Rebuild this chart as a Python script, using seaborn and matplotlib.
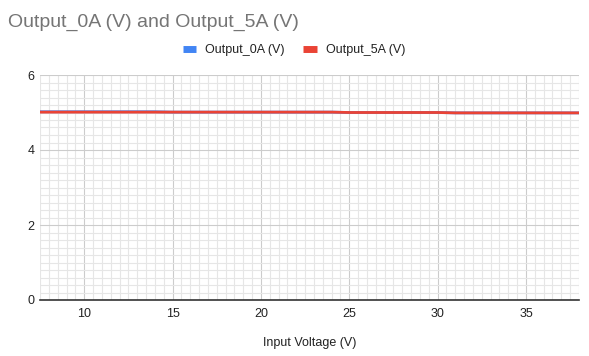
import numpy as np
import pandas as pd
import matplotlib
matplotlib.use("Agg")
import matplotlib.pyplot as plt
from matplotlib.ticker import MultipleLocator
from matplotlib.lines import Line2D
import seaborn as sns

input_voltage = [7.5, 8, 9, 10, 11, 12, 13, 14, 15, 16, 17, 18, 19, 20, 21, 22, 23,
                 24, 25, 26, 27, 28, 29, 30, 31, 32, 33, 34, 35, 36, 37, 38]
output_0a = [5.02, 5.02, 5.02, 5.02, 5.02, 5.02, 5.02, 5.02, 5.01, 5.01, 5.01, 5.01,
             5.01, 5.01, 5.01, 5.01, 5.01, 5.01, 5.00, 5.00, 5.00, 5.00, 5.00, 5.00,
             4.99, 4.99, 4.99, 4.99, 4.99, 4.99, 4.99, 4.99]
output_5a = [5.01, 5.01, 5.01, 5.01, 5.01, 5.01, 5.01, 5.01, 5.01, 5.01, 5.01, 5.01,
             5.01, 5.01, 5.01, 5.01, 5.01, 5.01, 5.00, 5.00, 5.00, 5.00, 5.00, 5.00,
             4.99, 4.99, 4.99, 4.99, 4.99, 4.99, 4.99, 4.99]
series_names = ["Output_0A (V)", "Output_5A (V)"]
colors = ["#4285F4", "#EA4335"]
title = "Output_0A (V) and Output_5A (V)"
x_label = "Input Voltage (V)"

df = pd.DataFrame({
    "Input Voltage (V)": input_voltage * 2,
    "value": output_0a + output_5a,
    "series": [series_names[0]] * len(input_voltage) + [series_names[1]] * len(input_voltage),
})

sns.set_theme(style="white")
plt.rcParams["font.family"] = ["Liberation Sans", "DejaVu Sans"]

fig = plt.figure(figsize=(5.89, 3.56), dpi=100)
ax = fig.add_axes([40 / 589, 56 / 356, 539 / 589, 225 / 356])

sns.lineplot(data=df, x="Input Voltage (V)", y="value", hue="series",
             palette=dict(zip(series_names, colors)), linewidth=2, ax=ax, legend=False)

ax.set_xlim(7.5, 38)
ax.set_ylim(0, 6)
ax.xaxis.set_major_locator(MultipleLocator(5))
ax.xaxis.set_minor_locator(MultipleLocator(0.5))
ax.yaxis.set_major_locator(MultipleLocator(2))
ax.yaxis.set_minor_locator(MultipleLocator(0.2))
ax.grid(which="minor", color="#e6e6e6", linewidth=0.8, zorder=0)
ax.grid(which="major", color="#cccccc", linewidth=0.8, zorder=0)
ax.set_axisbelow(True)
for s in ["top", "right", "left"]:
    ax.spines[s].set_visible(False)
ax.spines["bottom"].set_color("#333333")
ax.spines["bottom"].set_linewidth(1.2)
ax.tick_params(which="both", length=0)
ax.tick_params(axis="x", pad=6, labelsize=9, labelcolor="#222222")
ax.tick_params(axis="y", pad=4, labelsize=9, labelcolor="#222222")
ax.set_ylabel("")
ax.set_xlabel(x_label, fontsize=9, color="#222222")
ax.xaxis.set_label_coords(0.5, -0.165)

fig.text(8 / 589, 1 - 22 / 356, title, ha="left", va="center", fontsize=14, color="#757575")

handles = [Line2D([0], [0], color=c, linewidth=5, solid_capstyle="butt") for c in colors]
fig.legend(handles, series_names, loc="center", bbox_to_anchor=(294 / 589, 1 - 50 / 356),
           ncol=2, frameon=False, fontsize=9, handlelength=1.1, handletextpad=0.7,
           columnspacing=1.5, labelcolor="#222222")

fig.savefig("out.png", dpi=100)
